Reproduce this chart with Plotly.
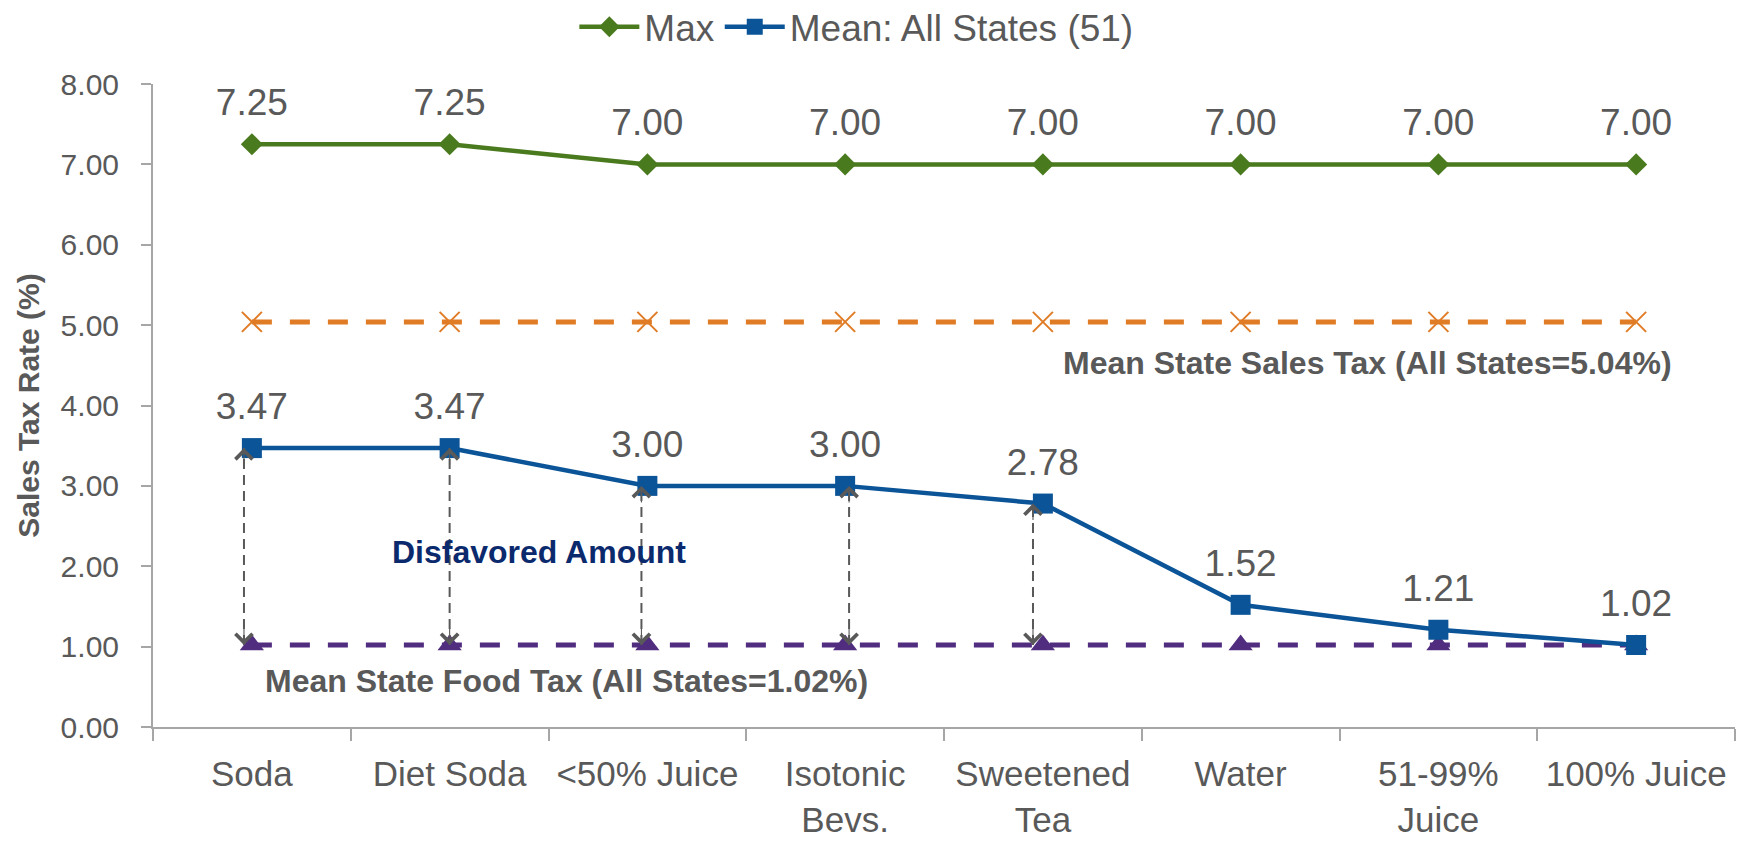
import plotly.graph_objects as go

categories = ["Soda", "Diet Soda", "<50% Juice", "Isotonic<br>Bevs.", "Sweetened<br>Tea",
              "Water", "51-99%<br>Juice", "100% Juice"]
max_rate = [7.25, 7.25, 7.00, 7.00, 7.00, 7.00, 7.00, 7.00]
mean_rate = [3.47, 3.47, 3.00, 3.00, 2.78, 1.52, 1.21, 1.02]
sales_tax_mean = [5.04] * 8
food_tax_mean = [1.02] * 8
disfavored_idx = [0, 1, 2, 3, 4]
arrow_dx = [-0.04, 0.0, -0.03, 0.02, -0.05]
y_ticks = [0, 1, 2, 3, 4, 5, 6, 7, 8]

FONT = "Arial, Liberation Sans, sans-serif"
GRAY = "#595959"
AXIS = "#A6A6A6"
GREEN = "#4A7A1E"
BLUE = "#0A5497"
ORANGE = "#E07B26"
PURPLE = "#512D80"
NAVY = "#0B2A6E"

xs = list(range(len(categories)))
fig = go.Figure()

fig.add_trace(go.Scatter(
    x=xs, y=sales_tax_mean, mode="lines+markers", showlegend=False, hoverinfo="skip",
    line=dict(color=ORANGE, width=5, dash="20px,18px"),
    marker=dict(symbol="x-thin-open", size=20, line=dict(color=ORANGE, width=2)),
))
fig.add_trace(go.Scatter(
    x=xs, y=food_tax_mean, mode="lines+markers", showlegend=False, hoverinfo="skip",
    line=dict(color=PURPLE, width=5, dash="20px,18px"),
    marker=dict(symbol="triangle-up", size=21, color=PURPLE),
))

# dashed arrows for disfavored amount
for k, i in enumerate(disfavored_idx):
    xa = i + arrow_dx[k]
    fig.add_shape(type="line", xref="x", yref="y", x0=xa, x1=xa,
                  y0=food_tax_mean[i], y1=mean_rate[i],
                  line=dict(color=GRAY, width=2, dash="10px,6px"))
    fig.add_annotation(x=xa, y=mean_rate[i], ax=0, ay=18, axref="pixel", ayref="pixel",
                       xref="x", yref="y", text="", showarrow=True, arrowhead=4,
                       arrowsize=3.0, arrowwidth=1.1, arrowcolor=GRAY)
    fig.add_annotation(x=xa, y=food_tax_mean[i], ax=0, ay=-18, axref="pixel", ayref="pixel",
                       xref="x", yref="y", text="", showarrow=True, arrowhead=4,
                       arrowsize=3.0, arrowwidth=1.1, arrowcolor=GRAY)

fig.add_trace(go.Scatter(
    x=xs, y=max_rate, mode="lines+markers", name="Max",
    line=dict(color=GREEN, width=4.5),
    marker=dict(symbol="diamond", size=17, color=GREEN),
))
fig.add_trace(go.Scatter(
    x=xs, y=mean_rate, mode="lines+markers", name="Mean: All States (51)",
    line=dict(color=BLUE, width=4.5),
    marker=dict(symbol="square", size=20, color=BLUE),
))
# value labels
for vals in (max_rate, mean_rate):
    fig.add_trace(go.Scatter(
        x=xs, y=vals, mode="markers+text", showlegend=False, hoverinfo="skip",
        marker=dict(size=30, color="rgba(0,0,0,0)"),
        text=[f"{v:.2f}" for v in vals], textposition="top center",
        textfont=dict(size=37, color=GRAY, family=FONT), cliponaxis=False,
    ))

fig.add_annotation(x=7.19, y=4.53, xref="x", yref="y", xanchor="right", showarrow=False,
                   text=f"<b>Mean State Sales Tax (All States={sales_tax_mean[0]:.2f}%)</b>",
                   font=dict(size=32, color=GRAY, family=FONT))
fig.add_annotation(x=1.59, y=0.57, xref="x", yref="y", showarrow=False,
                   text=f"<b>Mean State Food Tax (All States={food_tax_mean[0]:.2f}%)</b>",
                   font=dict(size=32, color=GRAY, family=FONT))
fig.add_annotation(x=1.45, y=2.18, xref="x", yref="y", showarrow=False,
                   text="<b>Disfavored Amount</b>",
                   font=dict(size=32, color=NAVY, family=FONT))

fig.update_layout(
    width=1742, height=834,
    margin=dict(l=145, r=15, t=76, b=115, autoexpand=False),
    plot_bgcolor="white", paper_bgcolor="white",
    font=dict(family=FONT, color=GRAY),
    legend=dict(orientation="h", xref="container", yref="container",
                x=0.487, y=0.977, xanchor="center", yanchor="middle",
                font=dict(size=37, color=GRAY), itemwidth=60),
    xaxis=dict(type="linear", range=[-0.5, 7.5], tickvals=xs, ticktext=categories,
               showgrid=False, zeroline=False, showline=True, linecolor=AXIS, linewidth=2,
               ticks="", ticklabelstandoff=15, tickfont=dict(size=35, color=GRAY)),
    yaxis=dict(range=[0, 8], tickvals=y_ticks, tickformat=".2f",
               showgrid=False, zeroline=False, showline=True, linecolor=AXIS, linewidth=2,
               ticks="outside", ticklen=10, tickcolor=AXIS, tickwidth=2,
               ticklabelstandoff=16,
               tickfont=dict(size=30, color=GRAY),
               title=dict(text="<b>Sales Tax Rate (%)</b>", font=dict(size=30, color=GRAY),
                          standoff=12)),
)

fig.update_xaxes(minor=dict(tickvals=[i - 0.5 for i in range(len(categories) + 1)],
                            ticks="outside", ticklen=12, tickcolor=AXIS, tickwidth=2))

fig.write_html("out.html")
